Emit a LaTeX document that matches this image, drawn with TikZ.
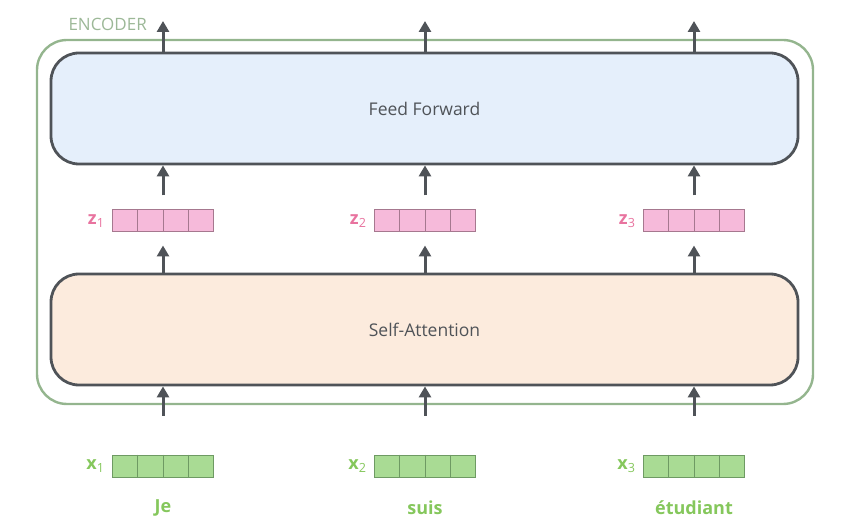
\documentclass[tikz,border=0pt]{standalone}
\usepackage{fontspec}
\setmainfont{Open Sans}
\usetikzlibrary{calc,positioning,arrows.meta}

\definecolor{boxline}{HTML}{4F5358}
\definecolor{fffill}{HTML}{E5EFFB}
\definecolor{safill}{HTML}{FCEBDD}
\definecolor{encline}{HTML}{94B58E}
\definecolor{enctext}{HTML}{9CB897}
\definecolor{zfill}{HTML}{F6BADA}
\definecolor{zline}{HTML}{A6788F}
\definecolor{ztext}{HTML}{E8739F}
\definecolor{xfill}{HTML}{A9DB94}
\definecolor{xline}{HTML}{6E9A63}
\definecolor{xtext}{HTML}{85C75C}

\tikzset{
	layer/.style={draw=boxline, line width=2.8pt, rounded corners=28pt,
		minimum width=747pt, minimum height=111pt, inner sep=0pt,
		text=boxline, font=\fontsize{17.5}{20}\selectfont},
	vec/.style={minimum width=101pt, minimum height=22pt, inner sep=0pt, line width=1pt},
	zvec/.style={vec, draw=zline, fill=zfill},
	xvec/.style={vec, draw=xline, fill=xfill},
	arr/.style={draw=boxline, line width=3pt, -{Triangle[width=12pt,length=11pt]}},
}

\begin{document}
\begin{tikzpicture}[x=1pt,y=-1pt]
				\useasboundingbox (0,0) rectangle (846,521);
				
				% encoder frame
				\draw[encline, line width=2.4pt, rounded corners=30pt] (37,40) rectangle (813,404);
				\node[text=enctext, font=\fontsize{17}{19}\selectfont, anchor=west] (enc) at (65,24) {ENCODER};
				
				\node[layer, fill=fffill] (ff) at (424.5,108.5) {Feed Forward};
				\node[layer, fill=safill] (sa) at (424.5,329.5) {Self-Attention};
				
				\foreach \i/\cx/\w in {1/163/Je, 2/425/suis, 3/694/étudiant}{
					\node[zvec] (z\i) at (\cx,221) {};
					\node[xvec] (x\i) at (\cx,466) {};
					\node[left=4pt of z\i, text=ztext, font=\bfseries\fontsize{18}{20}\selectfont] (zl\i) {z\textsubscript{\mdseries\i}};
					\node[left=4pt of x\i, text=xtext, font=\bfseries\fontsize{18}{20}\selectfont] (xl\i) {x\textsubscript{\mdseries\i}};
					\node[text=xtext, font=\bfseries\fontsize{18}{20}\selectfont] (w\i) at (\cx,508) {\w};
					\coordinate (out\i) at (\cx,21);
					
					\foreach \k in {1,2,3}{
						\draw[zline, line width=1pt] ($(z\i.north west)!\k/4!(z\i.north east)$) -- ($(z\i.south west)!\k/4!(z\i.south east)$);
						\draw[xline, line width=1pt] ($(x\i.north west)!\k/4!(x\i.north east)$) -- ($(x\i.south west)!\k/4!(x\i.south east)$);}
					
					\draw[arr] (ff.north -| out\i) -- (out\i);
					\draw[arr, shorten <=14pt] (z\i.north) -- (z\i.north |- ff.south);
					\draw[arr, shorten >=13pt] (z\i.south |- sa.north) -- (z\i.south);
					\draw[arr, shorten <=39pt] (x\i.north) -- (x\i.north |- sa.south);
				}
			\end{tikzpicture}
\end{document}
